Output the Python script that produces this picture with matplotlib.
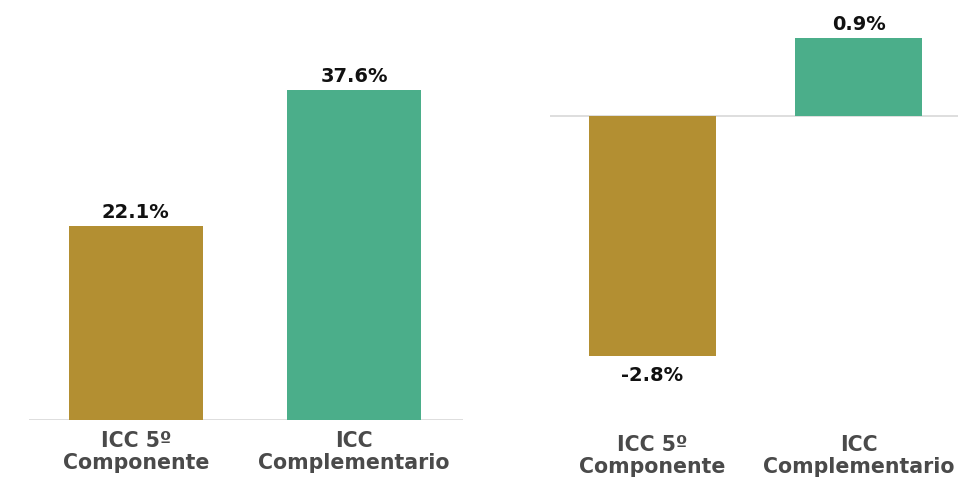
import matplotlib
matplotlib.use("Agg")
import matplotlib.pyplot as plt

categories = ["ICC 5º\nComponente", "ICC\nComplementario"]
left_values = [22.1, 37.6]
right_values = [-2.8, 0.9]
left_labels = ["22.1%", "37.6%"]
right_labels = ["-2.8%", "0.9%"]

colors = ["#B38F32", "#4BAE8A"]
W, H = 958, 479

plt.rcParams['font.family'] = ['DejaVu Sans']

fig = plt.figure(figsize=(W / 100, H / 100), dpi=100)


def px_axes(x0, x1, ytop, ybot):
    # pixel box (top-left origin) -> figure fraction
    return fig.add_axes([x0 / W, (H - ybot) / H, (x1 - x0) / W, (ybot - ytop) / H])


def style(ax, pad):
    for s in ax.spines.values():
        s.set_visible(False)
    ax.set_yticks([])
    ax.tick_params(axis='x', length=0, pad=pad)
    for lab in ax.get_xticklabels():
        lab.set_fontsize(14.8)
        lab.set_fontweight('bold')
        lab.set_color('#4a4a4a')
        lab.set_linespacing(1.1)


# left panel
ax1 = px_axes(29, 463, 69, 420)
x = range(len(categories))
ax1.bar(x, left_values, width=0.613, color=colors)
ax1.axhline(0, color='#d8d8d8', lw=1.2, zorder=0)
ax1.set_xlim(-0.49, 1.5)
ax1.set_ylim(0, 40)
ax1.set_xticks(list(x))
ax1.set_xticklabels(categories)
style(ax1, 8)
for i, v in enumerate(left_values):
    ax1.annotate(left_labels[i], (i, v), xytext=(0, 3), textcoords='offset points',
                 ha='center', va='bottom', fontsize=14, fontweight='bold', color='#111111')

# right panel
ax2 = px_axes(550, 958, 10, 427)
ax2.bar(x, right_values, width=0.617, color=colors)
ax2.axhline(0, color='#d8d8d8', lw=1.2, zorder=0)
ax2.set_xlim(-0.4976, 1.483)
ax2.set_ylim(-3.62, 1.23)
ax2.set_xticks(list(x))
ax2.set_xticklabels(categories)
style(ax2, 6)
for i, v in enumerate(right_values):
    off = 3 if v >= 0 else -7
    ax2.annotate(right_labels[i], (i, v), xytext=(0, off), textcoords='offset points',
                 ha='center', va='bottom' if v >= 0 else 'top',
                 fontsize=14, fontweight='bold', color='#111111')

fig.savefig("out.png", dpi=100)
